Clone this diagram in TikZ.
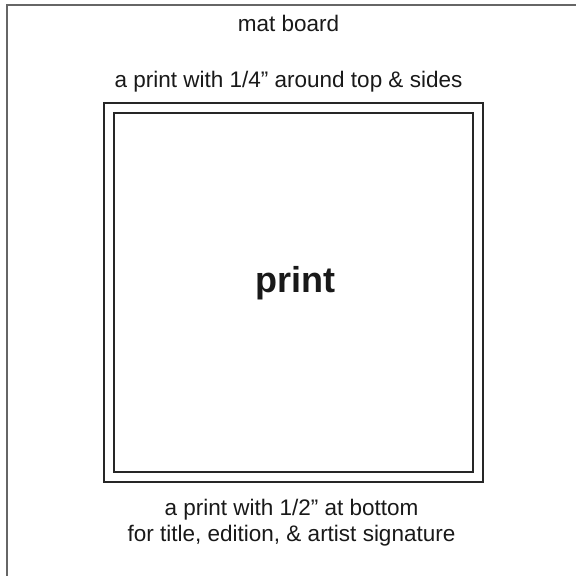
\documentclass[tikz,border=0pt]{standalone}
\usepackage{fontspec}
\setmainfont{Liberation Sans}
\usetikzlibrary{positioning}

\begin{document}
\begin{tikzpicture}[
    x=1pt, y=1pt,
    frame/.style={rectangle, draw=black!85, line width=1.3pt, inner sep=0pt},
    caption/.style={font=\fontsize{22.5}{26}\selectfont, text=black!90, inner sep=0pt, anchor=base}
  ]
    \useasboundingbox[fill=white] (0,0) rectangle (576,576);
    % mat board edge
    \draw[black!60, line width=2pt] (7,0) -- (7,571) -- (576,571);
    \node[frame, minimum size=379pt] (window) at (293.5,283.5) {};
    \node[frame, minimum size=359pt] (print) at (window.center) {};
    \node[font=\fontsize{36}{40}\selectfont\bfseries, text=black!90, inner sep=0pt, anchor=base] (printlabel) at ([xshift=1.5pt]print.center) {print};
    \node[caption, above=15pt of window.north, anchor=base, xshift=-5pt] (toplabel) {a print with 1/4{\char34} around top \& sides};
    \node[caption, above=56pt of toplabel.base, anchor=base] (matlabel) {mat board};
    \node[caption, below=33pt of window.south, anchor=base, xshift=-2pt] (botlabel) {a print with 1/2{\char34} at bottom};
    \node[caption, below=26pt of botlabel.base, anchor=base] (botlabel2) {for title, edition, \& artist signature};
  \end{tikzpicture}
\end{document}
